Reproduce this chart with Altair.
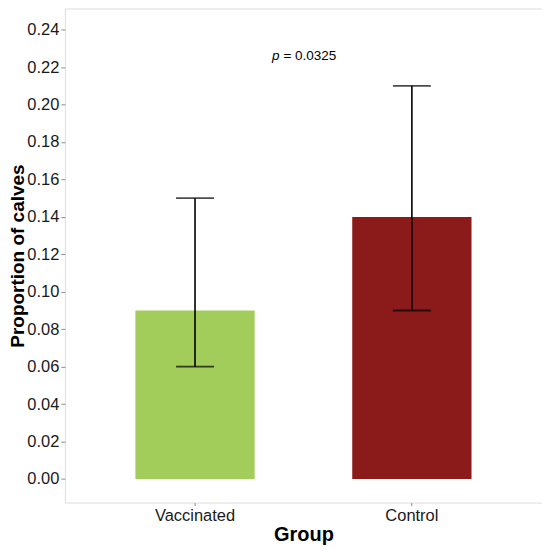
import altair as alt
import pandas as pd

groups = ["Vaccinated", "Control"]
proportions = [0.09, 0.14]
lower = [0.06, 0.09]
upper = [0.15, 0.21]
bar_colors = ["#A2CD5A", "#8B1A1A"]
y_ticks = [0.00, 0.02, 0.04, 0.06, 0.08, 0.10, 0.12, 0.14, 0.16, 0.18, 0.20, 0.22, 0.24]
p_label_italic = ["p"]
p_label_rest = ["= 0.0325"]
p_y = [0.2258]

df = pd.DataFrame({"group": groups, "prop": proportions, "lo": lower, "hi": upper})

FONT = "Liberation Sans"

x_enc = alt.X(
    "group:N",
    sort=groups,
    scale=alt.Scale(paddingInner=0.45, paddingOuter=0.325),
    axis=alt.Axis(
        title="Group", labelAngle=0, labelFontSize=16.5, labelColor="#1a1a1a",
        titleFontSize=20, titleFontWeight="bold", titleColor="black",
        tickSize=3, tickColor="#8c8c8c", labelPadding=2, titlePadding=0,
        domain=False, labelFont=FONT, titleFont=FONT,
    ),
)
y_scale = alt.Scale(domain=[-0.0126, 0.2513], nice=False, zero=False)
y_enc = alt.Y(
    "prop:Q",
    scale=y_scale,
    axis=alt.Axis(
        title="Proportion of calves", values=y_ticks, format=".2f",
        labelFontSize=16.5, labelColor="#1a1a1a", titleFontSize=19,
        titleFontWeight="bold", titleColor="black", tickSize=4,
        tickColor="#8c8c8c", labelPadding=2, titleX=-37, grid=False,
        domain=False, labelFont=FONT, titleFont=FONT,
    ),
)

bars = alt.Chart(df).mark_bar().encode(
    x=x_enc,
    y=y_enc,
    y2=alt.Y2(datum=0),
    color=alt.Color("group:N", scale=alt.Scale(domain=groups, range=bar_colors), legend=None),
)

stems = alt.Chart(df).mark_rule(color="black", strokeWidth=1.6).encode(
    x=alt.X("group:N", sort=groups),
    y=alt.Y("lo:Q"),
    y2="hi:Q",
)
cap_hi = alt.Chart(df).mark_tick(color="black", size=38, thickness=1.8, orient="horizontal").encode(
    x=alt.X("group:N", sort=groups), y=alt.Y("hi:Q")
)
cap_lo = alt.Chart(df).mark_tick(color="black", size=38, thickness=1.8, orient="horizontal").encode(
    x=alt.X("group:N", sort=groups), y=alt.Y("lo:Q")
)

pdf = pd.DataFrame({"a": p_label_italic, "b": p_label_rest, "y": p_y})
p_it = alt.Chart(pdf).mark_text(
    font=FONT, fontSize=13.5, fontStyle="italic", align="right", baseline="middle", color="black"
).encode(text="a:N", y=alt.Y("y:Q"), x=alt.value(215))
p_rest = alt.Chart(pdf).mark_text(
    font=FONT, fontSize=13.5, align="left", baseline="middle", color="black"
).encode(text="b:N", y=alt.Y("y:Q"), x=alt.value(219))

chart = alt.layer(bars, stems, cap_hi, cap_lo, p_it, p_rest).properties(
    width=478, height=495,
    autosize=alt.AutoSizeParams(type="none"),
    padding={"left": 57, "top": 0, "right": 0, "bottom": 42},
).configure_view(stroke="#a8a8a8", strokeWidth=1.3).configure(background="white")

chart.save("out.html", embed_options={"renderer": "svg", "actions": False})
